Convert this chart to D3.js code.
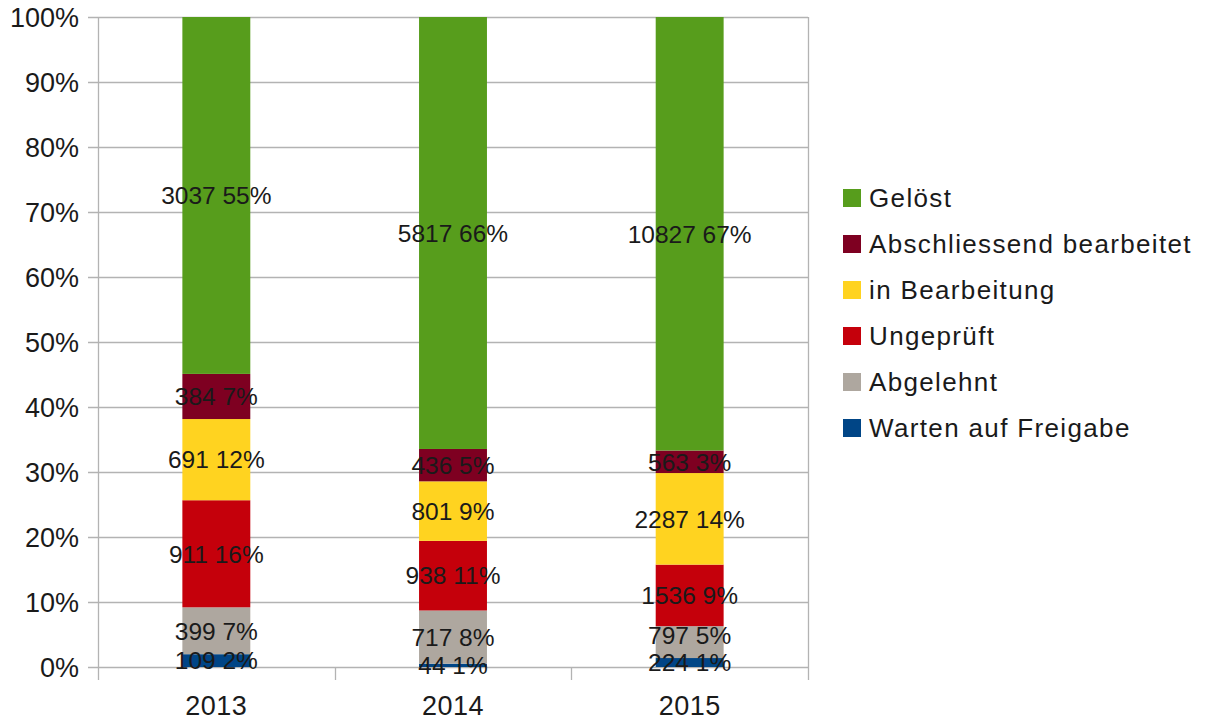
<html>

<head>
    <style>
        body {
            margin: 0;
            background: #fff;
        }

        text {
            font-family: "Liberation Sans", Arial, sans-serif;
            fill: #1a1a1a;
        }
    </style>
    <script src="https://d3js.org/d3.v7.min.js"></script>
</head>

<body>
    <svg id="chart"></svg>

    <script>
        // data
        var years = ['2013', '2014', '2015'];
        var series = ['Warten auf Freigabe', 'Abgelehnt', 'Ungeprüft', 'in Bearbeitung', 'Abschliessend bearbeitet', 'Gelöst'];
        var warten = [109, 44, 224];
        var abgelehnt = [399, 717, 797];
        var ungeprueft = [911, 938, 1536];
        var inBearbeitung = [691, 801, 2287];
        var abschliessend = [384, 436, 563];
        var geloest = [3037, 5817, 10827];
        var yTicks = [0, 0.1, 0.2, 0.3, 0.4, 0.5, 0.6, 0.7, 0.8, 0.9, 1];

        var colors = ['#004586', '#aea79f', '#c5000b', '#ffd320', '#7e0021', '#579d1c'];
        var values = [warten, abgelehnt, ungeprueft, inBearbeitung, abschliessend, geloest];

        var rows = years.map(function (y, i) {
            var r = { year: y };
            series.forEach(function (s, j) { r[s] = values[j][i]; });
            return r;
        });

        var W = 1208, H = 720;
        var svg = d3.select('svg#chart').attr('width', W).attr('height', H);

        var plotLeft = 98, plotRight = 808, plotTop = 17, plotBottom = 667;
        var labelSize = 24.5, axisSize = 27, legendSize = 26;
        var minGap = 27; // labels closer than this get pushed up

        var x = d3.scaleBand().domain(years).range([plotLeft, plotRight])
            .paddingInner(0.713).paddingOuter(0.3565);
        var xTick = d3.scaleBand().domain(years).range([plotLeft, plotRight]);
        var y = d3.scaleLinear().domain([0, 1]).range([plotBottom, plotTop]);

        var stack = d3.stack().keys(series).offset(d3.stackOffsetExpand);
        var layers = stack(rows);

        // grid
        svg.append('g').selectAll('line').data(yTicks).enter().append('line')
            .attr('x1', plotLeft - 10).attr('x2', plotRight)
            .attr('y1', function (d) { return Math.round(y(d)) + 0.5; })
            .attr('y2', function (d) { return Math.round(y(d)) + 0.5; })
            .attr('stroke', '#b3b3b3').attr('stroke-width', 1.3);

        // vertical lines / category ticks
        var vx = [plotLeft, plotRight].concat(years.slice(1).map(function (d) { return xTick(d); }));
        svg.append('g').selectAll('line').data(vx).enter().append('line')
            .attr('x1', function (d) { return Math.round(d) + 0.5; })
            .attr('x2', function (d) { return Math.round(d) + 0.5; })
            .attr('y1', function (d) { return (d === plotLeft || d === plotRight) ? plotTop : plotBottom; })
            .attr('y2', plotBottom + 13)
            .attr('stroke', '#b3b3b3').attr('stroke-width', 1.3);

        // bars
        var g = svg.append('g');
        layers.forEach(function (layer, j) {
            g.append('g').attr('fill', colors[j]).selectAll('rect').data(layer).enter().append('rect')
                .attr('x', function (d) { return x(d.data.year); })
                .attr('width', x.bandwidth())
                .attr('y', function (d) { return y(d[1]); })
                .attr('height', function (d) { return y(d[0]) - y(d[1]); });
        });

        // label positions, bottom to top, nudged up when they would collide
        var labelY = years.map(function () { return []; });
        years.forEach(function (yr, i) {
            var prev = Infinity;
            layers.forEach(function (layer, j) {
                var d = layer[i];
                var ly = y((d[0] + d[1]) / 2);
                if (prev - ly < minGap) ly = prev - minGap;
                labelY[i][j] = ly;
                prev = ly;
            });
        });

        // data labels
        layers.forEach(function (layer, j) {
            g.append('g').selectAll('text').data(layer).enter().append('text')
                .attr('x', function (d) { return x(d.data.year) + x.bandwidth() / 2; })
                .attr('y', function (d, i) { return labelY[i][j]; })
                .attr('dy', '0.36em')
                .attr('text-anchor', 'middle')
                .attr('font-size', labelSize)
                .text(function (d) {
                    var v = d.data[layer.key];
                    return v + ' ' + Math.round((d[1] - d[0]) * 100) + '%';
                });
        });

        // y labels
        svg.append('g').selectAll('text').data(yTicks).enter().append('text')
            .attr('x', 79).attr('y', function (d) { return y(d); })
            .attr('dy', '0.36em')
            .attr('text-anchor', 'end')
            .attr('font-size', axisSize)
            .text(d3.format('.0%'));

        // x labels
        svg.append('g').selectAll('text').data(years).enter().append('text')
            .attr('x', function (d) { return xTick(d) + xTick.bandwidth() / 2; })
            .attr('y', 715)
            .attr('text-anchor', 'middle')
            .attr('font-size', axisSize)
            .style('letter-spacing', '0.5px')
            .text(function (d) { return d; });

        // legend, top item is Gelöst
        var legendItems = series.slice().reverse();
        var lg = svg.append('g').selectAll('g').data(legendItems).enter().append('g')
            .attr('transform', function (d, i) { return 'translate(843,' + (198 + i * 46) + ')'; });
        lg.append('rect').attr('x', 0).attr('y', -9).attr('width', 18).attr('height', 18)
            .attr('fill', function (d) { return colors[series.indexOf(d)]; });
        lg.append('text').attr('x', 26).attr('y', 0).attr('dy', '0.36em')
            .attr('font-size', legendSize)
            .style('letter-spacing', '1.35px')
            .text(function (d) { return d; });
    </script>
</body>

</html>
